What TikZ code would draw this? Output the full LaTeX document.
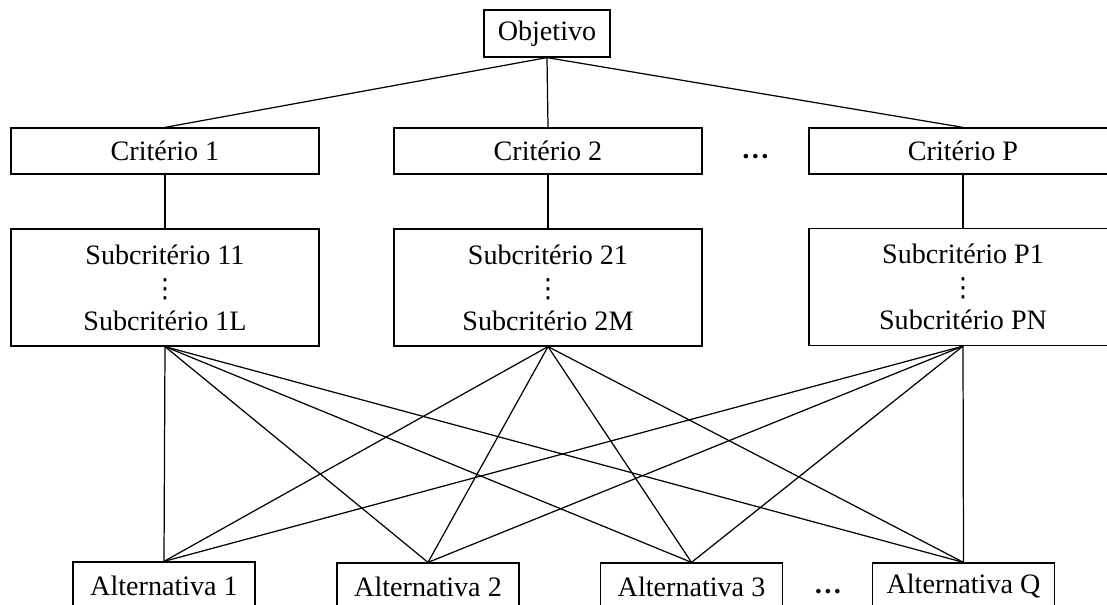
\documentclass[tikz,border=0pt]{standalone}
\usepackage{fontspec}
\setmainfont{Liberation Serif}
\newfontfamily\symfont{DejaVu Sans}
\newcommand{\subdots}{{\symfont\fontsize{15}{15}\selectfont ⋮}}
\begin{document}
\begin{tikzpicture}[line width=0.7pt,
every node/.style={font={\fontsize{16}{18.8}\selectfont}},
critbox/.style={draw, rectangle, minimum width=6.16cm, minimum height=0.92cm, inner sep=0pt},
subbox/.style={draw, rectangle, minimum width=6.16cm, minimum height=2.34cm, inner sep=0pt, align=center},
altbox/.style={draw, rectangle, minimum width=3.64cm, minimum height=0.94cm, inner sep=0pt}]

\clip (0,0) rectangle (22.14,-12.1);

% goal
\node [draw, rectangle, minimum width=2.52cm, minimum height=0.94cm, inner sep=0pt] (obj)
 at (10.94,-0.67) {Objetivo};


% criteria
\node [critbox] (crit1) at (3.30,-3.02) {Critério 1};

\node [critbox] (crit2) at (10.96,-3.02) {Critério 2};

\node [critbox] (critP) at (19.26,-3.02) {Critério P};

\node (cdots) at (15.11,-3.14) {\textbf{…}};


% subcriteria
\node [subbox] (sub1) at (3.30,-5.75) {Subcritério 11\\\subdots\\Subcritério 1L};

\node [subbox] (sub2) at (10.96,-5.75) {Subcritério 21\\\subdots\\Subcritério 2M};

\node [subbox] (subP) at (19.26,-5.74) {Subcritério P1\\\subdots\\Subcritério PN};


% alternatives
\node [altbox] (alt1) at (3.28,-11.71) {Alternativa 1};

\node [altbox] (alt2) at (8.56,-11.73) {Alternativa 2};

\node [altbox] (alt3) at (13.83,-11.73) {Alternativa 3};

\node [altbox] (altQ) at (19.27,-11.73) {Alternativa Q};

\node (adots) at (16.56,-11.84) {\textbf{…}};


\foreach \c in {1,2,P} {
 \draw (obj.south) -- (crit\c.north);
 \draw (crit\c.south) -- (sub\c.north);
}

\foreach \s in {1,2,P}
 \foreach \a in {1,2,3,Q}
  \draw (sub\s.south) -- (alt\a.north);

\end{tikzpicture}
\end{document}
